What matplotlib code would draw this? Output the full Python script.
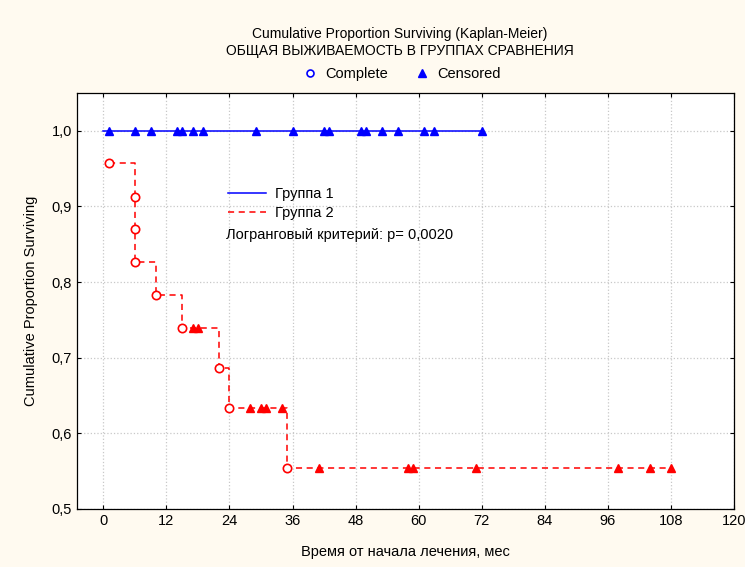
import numpy as np
import matplotlib
matplotlib.use("Agg")
import matplotlib.pyplot as plt
from matplotlib.lines import Line2D
from matplotlib.ticker import FuncFormatter, MultipleLocator

plt.rcParams["font.family"] = ["Liberation Sans", "DejaVu Sans"]

# group 1: no events, only censored times (months)
g1_end = 72
g1_cens = [1, 6, 9, 14, 15, 17, 19, 29, 36, 42, 43, 49, 50, 53, 56, 61, 63, 72]

# group 2: event times and KM survival after each event
g2_event_t = [1, 6, 6, 6, 10, 15, 22, 24, 35]
g2_event_s = [0.957, 0.913, 0.870, 0.826, 0.783, 0.739, 0.687, 0.633, 0.554]
g2_cens = [17, 18, 28, 30, 31, 34, 41, 58, 59, 71, 98, 104, 108]
g2_end = 108

BLUE, RED = "#0000ff", "#ff0000"
BG = "#fffaf0"


def surv_at(t):
    i = np.searchsorted(g2_event_t, t, side="right") - 1
    return g2_event_s[i]


fig = plt.figure(figsize=(7.45, 5.67), dpi=100, facecolor=BG)
ax = fig.add_axes([0.1034, 0.1023, 0.8818, 0.7337])
ax.set_facecolor("white")

# group 1
ax.plot([0, g1_end], [1.0, 1.0], color=BLUE, lw=1.1)
ax.plot(g1_cens, [1.0] * len(g1_cens), ls="none", marker="^", ms=6, color=BLUE)

# group 2
xs = list(g2_event_t) + [g2_end]
ys = list(g2_event_s) + [g2_event_s[-1]]
ax.step(xs, ys, where="post", color=RED, lw=1.1, ls=(0, (4, 3)))
ax.plot(g2_event_t, g2_event_s, ls="none", marker="o", ms=6, mfc="white", mec=RED, mew=1.2)
ax.plot(g2_cens, [surv_at(t) for t in g2_cens], ls="none", marker="^", ms=6, color=RED)

ax.set_xlim(-5, 120)
ax.set_ylim(0.5, 1.05)
ax.xaxis.set_major_locator(MultipleLocator(12))
ax.yaxis.set_major_locator(MultipleLocator(0.1))
ax.yaxis.set_major_formatter(FuncFormatter(lambda v, p: f"{v:.1f}".replace(".", ",")))
ax.tick_params(direction="in", length=3, top=True, right=True, labelsize=10.5, width=0.8)
ax.grid(color="#c8c8c8", ls=":", lw=0.9)
ax.set_axisbelow(True)
for s in ax.spines.values():
    s.set_linewidth(0.9)

ax.set_xlabel("Время от начала лечения, мес", fontsize=10.5, labelpad=12)
ax.set_ylabel("Cumulative Proportion Surviving", fontsize=10.5, labelpad=10)

fig.text(0.537, 0.940, "Cumulative Proportion Surviving (Kaplan-Meier)", ha="center", va="center", fontsize=10)
fig.text(0.537, 0.910, "ОБЩАЯ ВЫЖИВАЕМОСТЬ В ГРУППАХ СРАВНЕНИЯ", ha="center", va="center", fontsize=10)
top_handles = [
    Line2D([], [], ls="none", marker="o", ms=5, mfc="white", mec=BLUE, mew=1.2, label="Complete"),
    Line2D([], [], ls="none", marker="^", ms=6, color=BLUE, label="Censored"),
]
fig.legend(handles=top_handles, loc="center", bbox_to_anchor=(0.537, 0.869), ncol=2, frameon=False,
           fontsize=10.5, handletextpad=0.3, columnspacing=1.6, handlelength=1.5)

in_handles = [
    Line2D([], [], color=BLUE, lw=1.1, label="Группа 1"),
    Line2D([], [], color=RED, lw=1.1, ls=(0, (4, 3)), label="Группа 2"),
]
ax.legend(handles=in_handles, loc="upper left", bbox_to_anchor=(0.21, 0.805), frameon=False,
          fontsize=10.5, handlelength=2.6, handletextpad=0.6, labelspacing=0.35)
ax.text(0.227, 0.659, "Логранговый критерий: p= 0,0020", transform=ax.transAxes,
        fontsize=10.5, va="center", ha="left")

fig.savefig("out.png", dpi=100, facecolor=BG)
